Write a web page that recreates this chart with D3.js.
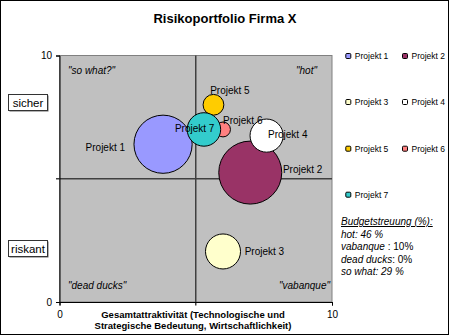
<!DOCTYPE html>
<html><head><meta charset="utf-8">
<script src="https://cdn.jsdelivr.net/npm/d3@7"></script>
<style>body{margin:0;background:#fff}svg{display:block;font-family:Arial,"Liberation Sans",sans-serif}</style>
</head><body><svg id="c" width="450" height="336"></svg>
<script>
const projects = ["Projekt 1","Projekt 2","Projekt 3","Projekt 4","Projekt 5","Projekt 6","Projekt 7"];
const attractiveness = [3.8, 7.0, 6.0, 7.6, 5.65, 6.0, 5.3];
const safety = [6.4, 5.25, 2.05, 6.75, 8.0, 7.0, 7.0];
const budget = [29, 34, 10.5, 9.4, 3.7, 1.9, 9.6];
const colors = ["#9999FF","#993366","#FFFFCC","#FFFFFF","#FFCC00","#FF8080","#33CCCC"];
const xTicks = [0, 10];
const yTicks = [0, 10];
const quadrants = ["\"so what?\"", "\"hot\"", "\"dead ducks\"", "\"vabanque\""];
const budgetLines = [["hot: 46 %",""],["vabanque"," : 10%"],["dead ducks",": 0%"],["so what: 29 %",""]];

const svg = d3.select("#c");
const L=59.5, R=332, T=55.5, B=302;
const x = d3.scaleLinear().domain([0,10]).range([L,R]);
const y = d3.scaleLinear().domain([0,10]).range([B,T]);
const r = d3.scaleSqrt().domain([0,34]).range([0,31.5]);

svg.append("rect").attr("x",0.5).attr("y",0.5).attr("width",448).attr("height",334).attr("fill","#fff").attr("stroke","#000");

svg.append("text").attr("x",225).attr("y",23).attr("text-anchor","middle").attr("font-size",13).attr("font-weight","bold").text("Risikoportfolio Firma X");

// plot area
svg.append("rect").attr("x",L).attr("y",T).attr("width",R-L).attr("height",B-T).attr("fill","#C0C0C0").attr("stroke","#808080");

// quadrant labels
const qs = svg.append("g").attr("font-size",10).attr("font-style","italic");
qs.append("text").attr("x",68).attr("y",73.5).text(quadrants[0]);
qs.append("text").attr("x",317).attr("y",73.5).attr("text-anchor","end").text(quadrants[1]);
qs.append("text").attr("x",68).attr("y",289).text(quadrants[2]);
qs.append("text").attr("x",330).attr("y",289).attr("text-anchor","end").text(quadrants[3]);

// mid lines
svg.append("line").attr("x1",x(0)-3.5).attr("x2",x(10)).attr("y1",y(5)).attr("y2",y(5)).attr("stroke","#404040").attr("stroke-width",1.5);
svg.append("line").attr("x1",x(5)).attr("x2",x(5)).attr("y1",y(10)).attr("y2",y(0)+3.5).attr("stroke","#404040").attr("stroke-width",1.5);

// axes
const ax = svg.append("g").attr("transform",`translate(0,${B})`).call(d3.axisBottom(x).tickValues(xTicks).tickSize(3.5).tickPadding(5).tickFormat(d3.format("d")));
const ay = svg.append("g").attr("transform",`translate(${L},0)`).call(d3.axisLeft(y).tickValues(yTicks).tickSize(3.5).tickPadding(4).tickFormat(d3.format("d")));
[ax,ay].forEach(a=>{a.select(".domain").attr("stroke","#000");a.selectAll("line").attr("stroke","#000");a.selectAll("text").attr("font-size",10).attr("font-family","Arial, 'Liberation Sans', sans-serif").attr("fill","#000");});

// bubbles
const data = projects.map((p,i)=>({p, x:attractiveness[i], y:safety[i], s:budget[i], c:colors[i]}));
svg.append("g").selectAll("circle").data(data).join("circle")
  .attr("cx",d=>x(d.x)).attr("cy",d=>y(d.y)).attr("r",d=>r(d.s))
  .attr("fill",d=>d.c).attr("stroke","#000").attr("stroke-width",1);

// bubble labels (offsets from bubble centre)
const labelOffsets = [[-38,3.4,"end"],[32.7,-3,"start"],[21.7,0,"start"],[1.4,-0.7,"start"],[-3.3,-14.7,"start"],[0,-9.3,"start"],[-29,-1.4,"start"]];
svg.append("g").attr("font-size",10).selectAll("text").data(data).join("text")
  .attr("x",(d,i)=>x(d.x)+labelOffsets[i][0]).attr("y",(d,i)=>y(d.y)+labelOffsets[i][1]).attr("dy","0.35em")
  .attr("text-anchor",(d,i)=>labelOffsets[i][2]).text(d=>d.p);

// y boxes
[["sicher",95],["riskant",241]].forEach(([t,yy])=>{
  svg.append("rect").attr("x",9.5).attr("y",yy+0.5).attr("width",39).attr("height",16).attr("fill","#666");
  svg.append("rect").attr("x",8.5).attr("y",yy-0.5).attr("width",39).attr("height",16).attr("fill","#fff").attr("stroke","#333");
  svg.append("text").attr("x",28).attr("y",yy+7.5).attr("dy","0.35em").attr("text-anchor","middle").attr("font-size",11.5).text(t);
});

// x title
const xt = svg.append("g").attr("font-size",9.5).attr("font-weight","bold").attr("text-anchor","middle");
xt.append("text").attr("x",193).attr("y",317.5).text("Gesamtattraktivität (Technologische und");
xt.append("text").attr("x",193).attr("y",329).text("Strategische Bedeutung, Wirtschaftlichkeit)");

// legend
const legRows = [56,102,148.7,194.7], legCols = [348.3,405];
const lg = svg.append("g").selectAll("g").data(data).join("g")
  .attr("transform",(d,i)=>`translate(${legCols[i%2]},${legRows[Math.floor(i/2)]})`);
lg.append("rect").attr("x",-2.5).attr("y",-2.5).attr("width",5).attr("height",5).attr("rx",1).attr("fill",d=>d.c).attr("stroke","#000");
lg.append("text").attr("x",6.5).attr("dy","0.35em").attr("font-size",8.5).text(d=>d.p);

// budget text
const bt = svg.append("g").attr("font-size",10);
bt.append("text").attr("x",341).attr("y",225).attr("font-style","italic").attr("text-decoration","underline").text("Budgetstreuung (%):");
budgetLines.forEach((b,i)=>{
  const t = bt.append("text").attr("x",341).attr("y",237.5+i*12.6);
  t.append("tspan").attr("font-style","italic").text(b[0]);
  if(b[1]) t.append("tspan").text(b[1]);
});
</script></body></html>
